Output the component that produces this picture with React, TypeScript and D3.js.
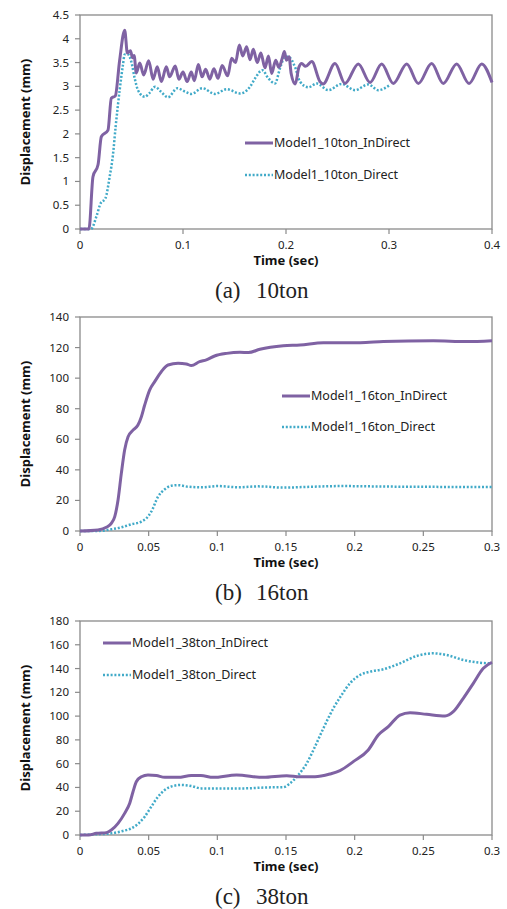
import * as d3 from "d3";

// time (sec), displacement (mm)
const a10InDirect: [number, number][] = [
  [0, 0], [0.0087, 0], [0.0126, 1.1], [0.0175, 1.35], [0.0207, 1.94], [0.0272, 2.08],
  [0.0304, 2.75], [0.0343, 2.8], [0.0385, 3.55], [0.0434, 4.18], [0.046, 3.7], [0.049, 3.75],
  [0.051, 3.6], [0.0525, 3.65], [0.0547, 3.28], [0.058, 3.49], [0.0618, 3.24], [0.0667, 3.54],
  [0.071, 3.15], [0.075, 3.41], [0.079, 3.1], [0.0838, 3.41], [0.087, 3.2], [0.0925, 3.43],
  [0.096, 3.15], [0.1, 3.3], [0.104, 3.1], [0.108, 3.3], [0.111, 3.12], [0.1149, 3.46],
  [0.1185, 3.2], [0.122, 3.36], [0.126, 3.15], [0.13, 3.37], [0.134, 3.17], [0.138, 3.44],
  [0.1434, 3.22], [0.1472, 3.59], [0.151, 3.5], [0.1547, 3.87], [0.158, 3.64], [0.1618, 3.83],
  [0.165, 3.56], [0.1683, 3.78], [0.172, 3.5], [0.1756, 3.7], [0.1796, 3.39], [0.183, 3.64],
  [0.186, 3.27], [0.19, 3.55], [0.193, 3.4], [0.1965, 3.6], [0.1984, 3.73], [0.2005, 3.55],
  [0.203, 3.62], [0.205, 3.27], [0.209, 3.05], [0.2125, 3.4], [0.2152, 3.48], [0.219, 3.42],
  [0.225, 3.52], [0.233, 3.1], [0.236, 3.05], [0.2476, 3.48], [0.2573, 3.06], [0.2702, 3.47],
  [0.2816, 3.08], [0.2929, 3.47], [0.3042, 3.06], [0.3172, 3.47], [0.3285, 3.06], [0.3414, 3.48],
  [0.3527, 3.06], [0.3657, 3.47], [0.3777, 3.06], [0.39, 3.47], [0.4, 3.08],
];
const a10Direct: [number, number][] = [
  [0, 0], [0.0107, 0], [0.0159, 0.26], [0.02, 0.54], [0.0246, 0.64], [0.0288, 1.1],
  [0.032, 1.56], [0.0346, 2.15], [0.0385, 2.92], [0.0417, 3.45], [0.0434, 3.67], [0.0466, 3.67],
  [0.0498, 3.52], [0.0531, 3.17], [0.0563, 2.92], [0.0628, 2.78], [0.067, 2.85], [0.073, 2.99],
  [0.0785, 2.89], [0.0854, 2.77], [0.0945, 2.96], [0.1019, 2.89], [0.108, 2.84], [0.1188, 2.96],
  [0.131, 2.84], [0.1424, 2.94], [0.1553, 2.85], [0.165, 2.99], [0.17, 3.17], [0.177, 3.34],
  [0.1828, 3.17], [0.1893, 3.06], [0.1942, 3.38], [0.199, 3.62], [0.2023, 3.62], [0.2087, 3.41],
  [0.2136, 3.1], [0.2217, 2.98], [0.2298, 3.06], [0.2411, 2.92], [0.254, 3.05], [0.267, 2.92],
  [0.2799, 3.04], [0.2896, 2.92], [0.301, 3.03],
];
const b16InDirect: [number, number][] = [
  [0, 0], [0.0131, 0.7], [0.0192, 2.4], [0.0228, 5], [0.0253, 9.4], [0.0277, 20.3],
  [0.0301, 37.7], [0.0325, 53], [0.035, 61.7], [0.0386, 66], [0.0422, 69.3], [0.0447, 74.8],
  [0.0471, 82.4], [0.0507, 92.2], [0.0544, 97.7], [0.0592, 104.2], [0.0641, 108.6],
  [0.0714, 109.7], [0.0774, 109.3], [0.0811, 108.2], [0.0871, 110.8], [0.092, 111.9],
  [0.098, 114.5], [0.1068, 116.2], [0.1165, 116.9], [0.1226, 116.7], [0.131, 118.9],
  [0.148, 121.2], [0.1602, 121.7], [0.1772, 123.2], [0.2039, 123.2], [0.2209, 123.9],
  [0.2573, 124.4], [0.2815, 123.9], [0.3, 124.5],
];
const b16Direct: [number, number][] = [
  [0, 0], [0.0131, 0], [0.0228, 1.1], [0.0301, 2.4], [0.0374, 4.4], [0.0447, 6.1],
  [0.0483, 8.3], [0.0519, 12.6], [0.0568, 22.4], [0.0617, 27.3], [0.0665, 29.6], [0.0714, 30],
  [0.0786, 29], [0.0883, 28.6], [0.1005, 29.4], [0.115, 28.6], [0.13, 29.2], [0.148, 28.4],
  [0.17, 29], [0.19, 29.4], [0.22, 29.1], [0.25, 28.9], [0.3, 28.8],
];
const c38InDirect: [number, number][] = [
  [0, 0], [0.0063, 0], [0.0119, 1.4], [0.0192, 2], [0.0228, 4.2], [0.0277, 9.8],
  [0.0325, 18.2], [0.0362, 26.7], [0.0386, 36.4], [0.041, 44.8], [0.0447, 49], [0.0495, 50.5],
  [0.0556, 50], [0.0617, 48.5], [0.0714, 48.5], [0.081, 50], [0.088, 50], [0.097, 48.5],
  [0.114, 50.5], [0.1335, 48.5], [0.1505, 49.9], [0.1602, 49], [0.1711, 49], [0.182, 51.3],
  [0.1893, 54.1], [0.199, 61.7], [0.2099, 71.5], [0.2172, 84.1], [0.2245, 91.1],
  [0.233, 100.9], [0.2403, 102.9], [0.2524, 101.5], [0.2658, 100.1], [0.2718, 103.7],
  [0.2791, 115], [0.2864, 127.6], [0.2937, 140.2], [0.3, 145.3],
];
const c38Direct: [number, number][] = [
  [0, 0], [0.0119, 0.6], [0.0228, 1.4], [0.0313, 3.4], [0.0374, 5.6], [0.0422, 9.3],
  [0.0471, 15.4], [0.0519, 23.8], [0.0568, 32.2], [0.0617, 37.9], [0.0677, 41.2],
  [0.0738, 42.1], [0.081, 41.2], [0.0883, 39.2], [0.098, 39.2], [0.119, 39.2], [0.136, 40],
  [0.148, 40.2], [0.1529, 43.5], [0.159, 50.5], [0.1651, 60.3], [0.1711, 74.3], [0.1772, 89.7],
  [0.1845, 106.6], [0.1905, 117.8], [0.1966, 127.6], [0.2039, 134.6], [0.2112, 137.4],
  [0.2209, 139.4], [0.233, 144.4], [0.2452, 150.6], [0.2573, 152.8], [0.267, 151.4],
  [0.2791, 147.2], [0.2913, 144.9], [0.3, 144.4],
];

const xTicksA = [0, 0.1, 0.2, 0.3, 0.4];
const xTicksBC = [0, 0.05, 0.1, 0.15, 0.2, 0.25, 0.3];
const yTicksA = [0, 0.5, 1, 1.5, 2, 2.5, 3, 3.5, 4, 4.5];
const yTicksB = [0, 20, 40, 60, 80, 100, 120, 140];
const yTicksC = [0, 20, 40, 60, 80, 100, 120, 140, 160, 180];
const legendA = ["Model1_10ton_InDirect", "Model1_10ton_Direct"];
const legendB = ["Model1_16ton_InDirect", "Model1_16ton_Direct"];
const legendC = ["Model1_38ton_InDirect", "Model1_38ton_Direct"];
const captions = [["(a)", "10ton"], ["(b)", "16ton"], ["(c)", "38ton"]];

const PURPLE = "#7f62a3";
const CYAN = "#41aac8";
const AXIS = "#8a8a8a";
const SANS = "'Noto Sans', 'Open Sans', sans-serif";
const SERIF = "'Liberation Serif', 'DejaVu Serif', serif";

const LEFT = 80;
const RIGHT = 492;

function Panel({ top, bottom, xTicks, yTicks, inDirect, direct, legend, legendX, legendY, caption }) {
  const x = d3.scaleLinear().domain([0, xTicks[xTicks.length - 1]]).range([LEFT, RIGHT]);
  const y = d3.scaleLinear().domain([0, yTicks[yTicks.length - 1]]).range([bottom, top]);
  const line = d3
    .line<[number, number]>()
    .x((d) => x(d[0]))
    .y((d) => y(d[1]))
    .curve(d3.curveMonotoneX);
  const fmt = (v: number) => String(+v.toFixed(3));

  return (
    <g>
      {/* plot frame */}
      <rect x={LEFT} y={top} width={RIGHT - LEFT} height={bottom - top} fill="none" stroke={AXIS} strokeWidth={1.3} />
      {yTicks.map((t) => (
        <g key={"y" + t}>
          <line x1={LEFT - 5} x2={LEFT} y1={y(t)} y2={y(t)} stroke={AXIS} strokeWidth={1.2} />
          <text x={LEFT - 11} y={y(t)} dy="0.35em" textAnchor="end" fontSize={11.5} fontFamily={SANS} fill="#222">
            {fmt(t)}
          </text>
        </g>
      ))}
      {xTicks.map((t) => (
        <g key={"x" + t}>
          <line x1={x(t)} x2={x(t)} y1={bottom} y2={bottom + 5} stroke={AXIS} strokeWidth={1.2} />
          <text x={x(t)} y={bottom + 20} textAnchor="middle" fontSize={11.5} fontFamily={SANS} fill="#222">
            {fmt(t)}
          </text>
        </g>
      ))}
      <path d={line(direct) || ""} fill="none" stroke={CYAN} strokeWidth={2.5} strokeDasharray="2 1.8" />
      <path d={line(inDirect) || ""} fill="none" stroke={PURPLE} strokeWidth={3} strokeLinejoin="round" />

      {/* legend */}
      <line x1={legendX} x2={legendX + 28} y1={legendY[0]} y2={legendY[0]} stroke={PURPLE} strokeWidth={3} />
      <text x={legendX + 29} y={legendY[0]} dy="0.35em" fontSize={12.5} fontFamily={SANS} fill="#222">
        {legend[0]}
      </text>
      <line x1={legendX} x2={legendX + 28} y1={legendY[1]} y2={legendY[1]} stroke={CYAN} strokeWidth={2.5} strokeDasharray="2 1.8" />
      <text x={legendX + 29} y={legendY[1]} dy="0.35em" fontSize={12.5} fontFamily={SANS} fill="#222">
        {legend[1]}
      </text>

      {/* axis titles */}
      <text
        transform={`translate(30,${(top + bottom) / 2}) rotate(-90)`}
        textAnchor="middle"
        fontSize={13}
        fontWeight="bold"
        fontFamily={SANS}
        fill="#111"
      >
        Displacement (mm)
      </text>
      <text x={(LEFT + RIGHT) / 2} y={bottom + 36} textAnchor="middle" fontSize={13} fontWeight="bold" fontFamily={SANS} fill="#111">
        Time (sec)
      </text>
      <text x={215} y={bottom + 69} fontSize={23} fontFamily={SERIF} fill="#222">
        {caption[0]}
      </text>
      <text x={256} y={bottom + 69} fontSize={23} fontFamily={SERIF} fill="#222">
        {caption[1]}
      </text>
    </g>
  );
}

export default function App() {
  return (
    <svg width={507} height={909} style={{ position: "absolute", left: 0, top: 0, background: "#fff" }}>
      <Panel
        top={15}
        bottom={229}
        xTicks={xTicksA}
        yTicks={yTicksA}
        inDirect={a10InDirect}
        direct={a10Direct}
        legend={legendA}
        legendX={245}
        legendY={[143, 175]}
        caption={captions[0]}
      />
      <Panel
        top={317}
        bottom={531}
        xTicks={xTicksBC}
        yTicks={yTicksB}
        inDirect={b16InDirect}
        direct={b16Direct}
        legend={legendB}
        legendX={282}
        legendY={[396, 427]}
        caption={captions[1]}
      />
      <Panel
        top={621}
        bottom={835}
        xTicks={xTicksBC}
        yTicks={yTicksC}
        inDirect={c38InDirect}
        direct={c38Direct}
        legend={legendC}
        legendX={103}
        legendY={[643, 675]}
        caption={captions[2]}
      />
    </svg>
  );
}
